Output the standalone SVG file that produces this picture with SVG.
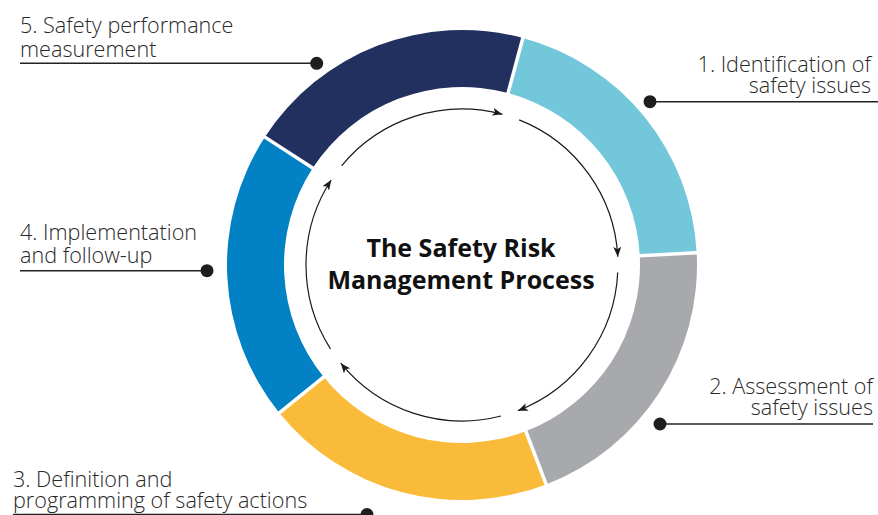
<svg xmlns="http://www.w3.org/2000/svg" width="878" height="515" viewBox="0 0 878 515">
  <defs>
    <marker id="arrowhead" markerUnits="userSpaceOnUse" markerWidth="10" markerHeight="8" viewBox="0 0 10 8" refX="10" refY="4" orient="auto">
      <path d="M0,0 L10,4 L0,8 L2.5,4 Z" fill="#1a1a1a"/>
    </marker>
  </defs>
  <style>
    .label { font-family: "Open Sans", "Liberation Sans", sans-serif; font-weight: 300; font-size: 21.6px; fill: #282828; }
    .title { font-family: "Open Sans", "Liberation Sans", sans-serif; font-weight: 700; font-size: 25px; fill: #111111; text-anchor: middle; }
    .leader { stroke: #222222; stroke-width: 1.6; fill: none; }
    .dot { fill: #1e1e1e; }
    .cycle { stroke: #1a1a1a; stroke-width: 1.2; fill: none; marker-end: url(#arrowhead); }
    .sep { stroke: #ffffff; stroke-width: 3.5; }
  </style>

  <rect width="878" height="515" fill="#ffffff"/>

  <!-- Ring segments: centre (462,265), outer r 235, inner r 178 -->
  <g id="step-5-segment">
    <path d="M264.91,137.01 A235,235 0 0 1 522.82,38.01 L508.07,93.07 A178,178 0 0 0 312.72,168.05 Z" fill="#22305f"/>
  </g>
  <g id="step-1-segment">
    <path d="M522.82,38.01 A235,235 0 0 1 696.68,252.70 L639.76,255.68 A178,178 0 0 0 508.07,93.07 Z" fill="#73c7db"/>
  </g>
  <g id="step-2-segment">
    <path d="M696.68,252.70 A235,235 0 0 1 546.22,484.39 L525.79,431.18 A178,178 0 0 0 639.76,255.68 Z" fill="#a7a9ac"/>
  </g>
  <g id="step-3-segment">
    <path d="M546.22,484.39 A235,235 0 0 1 279.37,412.89 L323.67,377.02 A178,178 0 0 0 525.79,431.18 Z" fill="#fabb3a"/>
  </g>
  <g id="step-4-segment">
    <path d="M279.37,412.89 A235,235 0 0 1 264.91,137.01 L312.72,168.05 A178,178 0 0 0 323.67,377.02 Z" fill="#0281c4"/>
  </g>

  <!-- White gaps between segments -->
  <g id="separators">
    <line class="sep" x1="506.9" y1="97.4" x2="524.0" y2="33.7"/>
    <line class="sep" x1="635.3" y1="255.9" x2="701.2" y2="252.5"/>
    <line class="sep" x1="524.2" y1="427.0" x2="547.8" y2="488.6"/>
    <line class="sep" x1="327.2" y1="374.2" x2="275.9" y2="415.7"/>
    <line class="sep" x1="316.5" y1="170.5" x2="261.1" y2="134.6"/>
  </g>

  <!-- Inner cycle arrows -->
  <g id="connectors">
    <path class="cycle" d="M519.17,119.85 A156,156 0 0 1 617.79,256.84"/>
    <path class="cycle" d="M617.71,272.5 A156,156 0 0 1 517.91,410.64"/>
    <path class="cycle" d="M501.06,416.03 A156,156 0 0 1 340.76,363.17"/>
    <path class="cycle" d="M330.43,348.82 A156,156 0 0 1 331.17,180.04"/>
    <path class="cycle" d="M341.63,165.77 A156,156 0 0 1 502.38,114.32"/>
  </g>

  <g id="title">
    <text class="title" x="461" y="257"><tspan x="461" y="257">The Safety Risk</tspan><tspan x="461" y="288.5">Management Process</tspan></text>
  </g>

  <g id="label-1">
    <text class="label" text-anchor="end"><tspan x="871" y="72">1. Identification of</tspan><tspan x="871" y="93">safety issues</tspan></text>
    <line class="leader" x1="650" y1="101.7" x2="878" y2="101.7"/>
    <circle class="dot" cx="650" cy="101.7" r="6.5"/>
  </g>

  <g id="label-2">
    <text class="label" text-anchor="end"><tspan x="873" y="393.5">2. Assessment of</tspan><tspan x="873" y="415">safety issues</tspan></text>
    <line class="leader" x1="660" y1="424" x2="873" y2="424"/>
    <circle class="dot" cx="660" cy="424" r="6.5"/>
  </g>

  <g id="label-3">
    <text class="label"><tspan x="13" y="486.5">3. Definition and</tspan><tspan x="13" y="508.3">programming of safety actions</tspan></text>
    <line class="leader" x1="13" y1="514.5" x2="367" y2="514.5"/>
    <circle class="dot" cx="367" cy="514.5" r="6.5"/>
  </g>

  <g id="label-4">
    <text class="label"><tspan x="20" y="240">4. Implementation</tspan><tspan x="20" y="263.3">and follow-up</tspan></text>
    <line class="leader" x1="20" y1="270.7" x2="207" y2="270.7"/>
    <circle class="dot" cx="207" cy="270.7" r="6.5"/>
  </g>

  <g id="label-5">
    <text class="label"><tspan x="20" y="33">5. Safety performance</tspan><tspan x="20" y="56.5">measurement</tspan></text>
    <line class="leader" x1="20" y1="63.3" x2="316.7" y2="63.3"/>
    <circle class="dot" cx="316.7" cy="63.3" r="6.5"/>
  </g>
</svg>
